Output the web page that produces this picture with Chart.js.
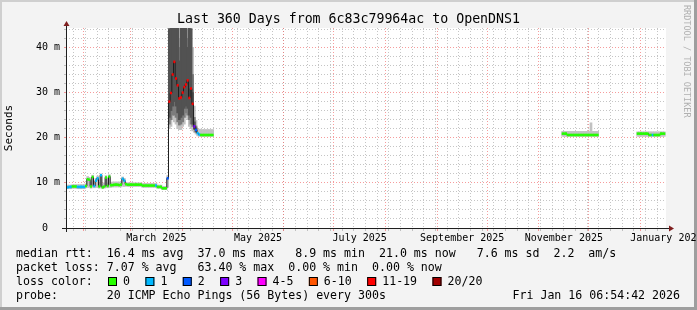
<!DOCTYPE html>
<html>
<head>
<meta charset="utf-8">
<script src="https://cdn.jsdelivr.net/npm/chart.js@4.4.1/dist/chart.umd.min.js"></script>
<style>
html, body { margin: 0; padding: 0; background: #f3f3f3; }
canvas { display: block; }
</style>
</head>
<body>
<canvas id="chart" width="697" height="310"></canvas>
<script>
// データ (期間の開始からの経過日数ごと、null は欠測)
const days = [
  0, 1, 2, 3, 4, 5, 6, 7, 8, 9, 10, 11, 12, 13, 14, 15, 16, 17, 18, 19, 20, 21, 22, 23, 24, 25, 26, 27, 28, 29,
  30, 31, 32, 33, 34, 35, 36, 37, 38, 39, 40, 41, 42, 43, 44, 45, 46, 47, 48, 49, 50, 51, 52, 53, 54, 55, 56, 57, 58, 59,
  60, 61, 62, 63, 64, 65, 66, 67, 68, 69, 70, 71, 72, 73, 74, 75, 76, 77, 78, 79, 80, 81, 82, 83, 84, 85, 86, 87, 88, 89,
  298, 299, 300, 301, 302, 303, 304, 305, 306, 307, 308, 309, 310, 311, 312, 313, 314, 315, 316, 317, 318, 319, 320,
  343, 344, 345, 346, 347, 348, 349, 350, 351, 352, 353, 354, 355, 356, 357, 358, 359
];
// 中央値 (ms)
const median = [
  9.0, 9.0, 9.1, 9.1, 9.2, 9.2, 9.2, 9.1, 9.1, 9.1, 9.1, 9.1,
  9.3, 10.8, 10.7, 9.2, 11.3, 9.3, 10.5, 11.0, 9.2, 11.7,
  9.0, 9.2, 11.2, 9.3, 11.4, 9.5, 9.5, 9.6, 9.6, 9.6, 9.5, 9.6,
  10.9, 10.5, 9.7, 9.6, 9.6, 9.6, 9.6, 9.6, 9.6, 9.6, 9.6, 9.6,
  9.4, 9.4, 9.4, 9.4, 9.4, 9.4, 9.4, 9.4, 9.4, 9.1, 9.1, 9.1,
  8.8, 8.8, 8.8, 11.0, 28.0, 29.9, 34.0, 36.8, 33.1, 31.6, 28.7, 28.9,
  30.0, 31.2, 31.8, 32.7, 28.8, 30.9, 27.5, 22.5, 21.7, 21.0,
  20.7, 20.6, 20.6, 20.6, 20.6, 20.6, 20.6, 20.6, 20.6, null,
  20.9, 20.9, 20.9, 20.6, 20.6, 20.6, 20.6, 20.6, 20.6, 20.6, 20.6, 20.6, 20.6, 20.6, 20.6, 20.6, 20.6, 20.6, 20.6, 20.6, 20.6, 20.6, null,
  20.9, 20.9, 20.9, 20.9, 20.9, 20.9, 20.9, 20.6, 20.6, 20.6, 20.6, 20.6, 20.6, 20.6, 20.9, 20.9, 20.9
];
// 20回中の損失数
const lossPings = [
  1, 1, 1, 1, 0, 0, 0, 1, 1, 1, 1, 1,
  0, 0, 0, 0, 0, 1, 1, 1, 0, 1,
  0, 0, 0, 0, 0, 0, 0, 0, 0, 0, 0, 0,
  1, 1, 0, 0, 0, 0, 0, 0, 0, 0, 0, 0,
  0, 0, 0, 0, 0, 0, 0, 0, 1, 0, 0, 0,
  0, 0, 0, 2, 14, 14, 14, 14, 14, 14, 14, 14,
  14, 14, 14, 14, 14, 14, 13, 3, 2, 1,
  1, 0, 0, 0, 0, 0, 0, 0, 0, null,
  0, 0, 0, 0, 0, 0, 0, 0, 0, 0, 0, 0, 0, 0, 0, 0, 0, 0, 0, 0, 0, 0, null,
  0, 0, 0, 0, 0, 0, 0, 0, 0, 1, 0, 0, 0, 0, 0, 0, 0
];
// スモーク (最小〜最大)
const smokeLo = [
  8.7, 8.7, 8.7, 8.7, 8.8, 8.8, 8.8, 8.7, 8.7, 8.7, 8.7, 8.7,
  8.9, 9.0, 9.0, 8.8, 9.0, 8.9, 9.0, 9.0, 8.8, 9.1,
  8.7, 8.8, 9.0, 8.9, 9.0, 9.0, 9.1, 9.1, 9.1, 9.1, 9.1, 9.1,
  9.3, 9.2, 9.3, 9.2, 9.2, 9.2, 9.2, 9.2, 9.2, 9.2, 9.2, 9.2,
  9.0, 9.0, 9.0, 9.0, 9.0, 9.0, 9.0, 9.0, 9.0, 8.8, 8.8, 8.8,
  8.5, 8.5, 8.5, 9.0, 22.0, 22.5, 24.0, 23.5, 23.0, 22.0, 21.8, 21.8,
  22.5, 23.0, 24.5, 24.0, 22.5, 22.0, 21.5, 21.2, 20.8, 20.4,
  20.3, 20.3, 20.3, 20.3, 20.3, 20.3, 20.3, 20.3, 20.3, null,
  20.3, 20.3, 20.3, 20.3, 20.3, 20.3, 20.3, 20.3, 20.3, 20.3, 20.3, 20.3, 20.3, 20.3, 20.3, 20.3, 20.3, 20.3, 20.3, 20.3, 20.3, 20.3, null,
  20.3, 20.3, 20.3, 20.3, 20.3, 20.3, 20.3, 20.3, 20.3, 20.3, 20.3, 20.3, 20.3, 20.3, 20.3, 20.3, 20.3
];
const smokeHi = [
  9.5, 9.5, 9.5, 9.5, 9.6, 9.6, 9.6, 9.6, 9.6, 9.6, 9.6, 9.6,
  9.8, 11.4, 11.2, 10.2, 11.7, 10.4, 11.0, 11.5, 10.0, 12.0,
  9.8, 10.0, 11.6, 10.0, 11.8, 10.0, 10.2, 10.2, 10.2, 10.2, 10.2, 10.2,
  11.3, 11.0, 10.1, 10.0, 10.0, 10.0, 10.0, 10.0, 10.0, 10.0, 10.0, 10.0,
  9.9, 9.9, 9.9, 9.9, 9.9, 9.9, 9.9, 9.9, 9.9, 9.5, 9.5, 9.5,
  9.2, 9.2, 9.2, 11.6, 60, 60, 60, 60, 60, 60, 42, 60,
  60, 60, 60, 44, 60, 60, 40, 27, 23.8, 22.0,
  21.9, 21.8, 21.8, 21.8, 21.8, 21.8, 21.8, 21.8, 21.8, null,
  21.4, 21.4, 21.4, 21.4, 21.4, 21.4, 21.4, 21.4, 21.4, 21.4, 21.4, 21.4, 21.4, 21.4, 21.4, 21.4, 21.4, 23.3, 21.4, 21.4, 21.4, 21.4, null,
  21.3, 21.3, 21.3, 21.3, 21.3, 21.3, 21.3, 21.3, 21.3, 21.3, 21.3, 21.3, 21.3, 21.3, 21.3, 21.3, 21.3
];
// 高遅延期間の濃いスモーク
const hotDays = [62, 63, 64, 65, 66, 67, 68, 69, 70, 71, 72, 73, 74, 75, 76, 77, 78];
const hotMidLo = [23.0, 24.0, 25.0, 25.0, 24.5, 23.5, 22.8, 23.0, 23.5, 24.5, 25.5, 25.0, 24.0, 23.0, 22.5, 21.8, 21.2];
const hotMidHi = [52, 60, 60, 60, 60, 50, 40, 54, 55, 60, 60, 42, 56, 50, 34, 24.5, 22.6];
const hotCoreLo = [24.5, 26.0, 27.0, 28.0, 27.0, 25.5, 24.0, 24.5, 25.0, 26.5, 27.0, 26.5, 25.0, 24.5, 23.0, 22.0, 21.3];
const hotCoreHi = [44, 60, 60, 60, 52, 46, 37, 48, 60, 60, 60, 40, 50, 44, 30, 23.5, 22.2];

// 目盛りラベル
const monthLabels = ['March 2025', 'May 2025', 'July 2025', 'September 2025', 'November 2025', 'January 2026'];
const labelMonths = [[2025, 2], [2025, 4], [2025, 6], [2025, 8], [2025, 10], [2026, 0]];

// 損失色
const lossNames = ['0', '1', '2', '3', '4-5', '6-10', '11-19', '20/20'];
const lossLimits = [0, 1, 2, 3, 5, 10, 19, 20];
const lossColors = ['#26ff00', '#00b8ff', '#0059ff', '#7e00ff', '#ff00ff', '#ff5500', '#ff0000', '#a10000'];

const titleText = 'Last 360 Days from 6c83c79964ac to OpenDNS1';
const statLines = [
  'median rtt:  16.4 ms avg  37.0 ms max   8.9 ms min  21.0 ms now   7.6 ms sd  2.2  am/s',
  'packet loss: 7.07 % avg   63.40 % max  0.00 % min  0.00 % now',
  'loss color:',
  'probe:       20 ICMP Echo Pings (56 Bytes) every 300s'
];
const stampText = 'Fri Jan 16 06:54:42 2026';

const MONO = 'DejaVu Sans Mono';
const MINOR = 'rgba(150,150,150,0.55)';
const MAJOR = 'rgba(240,90,90,0.6)';

// 時間軸の計算
const DAY = 86400000;
const endTime = Date.UTC(2026, 0, 16, 6, 54, 42);
const startTime = endTime - 360 * DAY;
const toDay = t => (t - startTime) / DAY;

function gridTicks() {
    const ticks = [];
    // 週ごとの補助線
    for (let t = Date.UTC(2025, 0, 26); t < endTime; t += 7 * DAY) {
        ticks.push({ value: toDay(t), major: false });
    }
    // 月ごとの主線
    for (let m = 1; m <= 12; m++) {
        ticks.push({ value: toDay(Date.UTC(2025, m, 1)), major: true });
    }
    return ticks.sort((a, b) => a.value - b.value);
}

// ラベルは月の中央に置く
const labelTicks = labelMonths.map(([y, m]) => ({
    value: (toDay(Date.UTC(y, m, 1)) + toDay(Date.UTC(y, m + 1, 1))) / 2
}));

function lossColor(n) {
    const i = lossLimits.findIndex(lim => n <= lim);
    return lossColors[i < 0 ? lossColors.length - 1 : i];
}

function bandData(xs, lo, hi) {
    return xs.map((d, i) => ({ x: d, y: lo[i] == null ? null : [lo[i], hi[i]] }));
}

// 背景と枠
const framePlugin = {
    id: 'frame',
    beforeDraw(chart) {
        const { ctx, width, height, chartArea: a } = chart;
        ctx.save();
        ctx.fillStyle = '#f3f3f3';
        ctx.fillRect(0, 0, width, height);
        ctx.fillStyle = '#cfcfcf';
        ctx.fillRect(0, 0, width, 2);
        ctx.fillRect(0, 0, 2, height);
        ctx.fillStyle = '#9e9e9e';
        ctx.fillRect(width - 3, 0, 3, height);
        ctx.fillRect(0, height - 3, width, 3);
        ctx.fillStyle = '#ffffff';
        ctx.fillRect(a.left, a.top, a.right - a.left, a.bottom - a.top);
        // 透かし
        ctx.translate(686, 5);
        ctx.rotate(Math.PI / 2);
        ctx.font = '8.5px "' + MONO + '"';
        ctx.fillStyle = '#b0b0b0';
        ctx.textBaseline = 'middle';
        ctx.fillText('RRDTOOL / TOBI OETIKER', 0, 0);
        ctx.restore();
    }
};

// 軸と矢印
const axisPlugin = {
    id: 'axisArrows',
    afterDatasetsDraw(chart) {
        const { ctx, chartArea: a } = chart;
        ctx.save();
        ctx.strokeStyle = '#1f1f1f';
        ctx.lineWidth = 1;
        ctx.beginPath();
        ctx.moveTo(a.left - 4, a.bottom + 0.5);
        ctx.lineTo(a.right + 4, a.bottom + 0.5);
        ctx.moveTo(a.left + 0.5, a.bottom + 4);
        ctx.lineTo(a.left + 0.5, a.top - 3);
        ctx.stroke();
        ctx.fillStyle = '#7f1f1f';
        ctx.beginPath();
        ctx.moveTo(a.right + 3, a.bottom - 2.5);
        ctx.lineTo(a.right + 8, a.bottom + 0.5);
        ctx.lineTo(a.right + 3, a.bottom + 3.5);
        ctx.closePath();
        ctx.fill();
        ctx.beginPath();
        ctx.moveTo(a.left - 2.5, a.top - 2);
        ctx.lineTo(a.left + 0.5, a.top - 7);
        ctx.lineTo(a.left + 3.5, a.top - 2);
        ctx.closePath();
        ctx.fill();
        ctx.restore();
    }
};

// 統計と損失色の凡例
const statsPlugin = {
    id: 'stats',
    afterDraw(chart) {
        const ctx = chart.ctx;
        const rows = [254, 268, 282, 296];
        ctx.save();
        ctx.font = '11.6px "' + MONO + '"';
        ctx.fillStyle = '#000';
        ctx.textBaseline = 'middle';
        statLines.forEach((line, i) => ctx.fillText(line, 16, rows[i]));
        let x = 108;
        lossNames.forEach((name, i) => {
            ctx.fillStyle = lossColors[i];
            ctx.fillRect(x, 277, 9, 9);
            ctx.strokeStyle = '#000';
            ctx.lineWidth = 1;
            ctx.strokeRect(x + 0.5, 277.5, 8, 8);
            ctx.fillStyle = '#000';
            ctx.fillText(name, x + 15, rows[2]);
            x += 15 + ctx.measureText(name).width + 15.4;
        });
        ctx.textAlign = 'right';
        ctx.fillText(stampText, 680, rows[3]);
        ctx.restore();
    }
};

new Chart(document.getElementById('chart'), {
    type: 'line',
    data: {
        datasets: [
            {
                type: 'line',
                data: days.map((d, i) => ({ x: d, y: median[i] })),
                borderColor: '#202020',
                borderWidth: 1,
                stepped: 'middle',
                spanGaps: false,
                fill: false,
                pointStyle: 'line',
                pointRadius: 1,
                pointBorderWidth: 2.6,
                pointBorderColor: ctx => lossColor(lossPings[ctx.dataIndex]),
                order: 1
            },
            {
                type: 'bar',
                data: bandData(hotDays, hotCoreLo, hotCoreHi),
                backgroundColor: '#525252',
                barThickness: 2,
                grouped: false,
                borderWidth: 0,
                order: 2
            },
            {
                type: 'bar',
                data: bandData(hotDays, hotMidLo, hotMidHi),
                backgroundColor: '#7c7c7c',
                barThickness: 2,
                grouped: false,
                borderWidth: 0,
                order: 3
            },
            {
                type: 'bar',
                data: bandData(days, smokeLo, smokeHi),
                backgroundColor: '#c2c2c2',
                barThickness: 2,
                grouped: false,
                borderWidth: 0,
                order: 4
            }
        ]
    },
    options: {
        responsive: false,
        devicePixelRatio: 1,
        animation: false,
        events: [],
        layout: { padding: { left: 0, right: 0, top: 0, bottom: 65 } },
        plugins: {
            legend: { display: false },
            tooltip: { enabled: false },
            title: {
                display: true,
                text: titleText,
                color: '#000',
                font: { family: MONO, size: 13.25, weight: 'normal', lineHeight: '16px' },
                padding: { top: 12, bottom: 0 }
            }
        },
        scales: {
            x: {
                type: 'linear',
                position: 'bottom',
                min: 0,
                max: 360,
                offset: false,
                afterBuildTicks: s => { s.ticks = gridTicks(); },
                afterFit: s => { s.height = 3; s.paddingLeft = 0; s.paddingRight = 0; },
                ticks: { display: false },
                grid: {
                    offset: false,
                    color: ctx => (ctx.tick && ctx.tick.major ? MAJOR : MINOR),
                    lineWidth: 1,
                    tickLength: 3
                },
                border: { display: false, dash: [1, 2] }
            },
            xl: {
                type: 'linear',
                position: 'bottom',
                min: 0,
                max: 360,
                afterBuildTicks: s => { s.ticks = labelTicks.map(t => ({ value: t.value })); },
                afterFit: s => { s.height = 14; s.paddingLeft = 0; s.paddingRight = 0; },
                ticks: {
                    autoSkip: false,
                    maxRotation: 0,
                    padding: 1,
                    color: '#000',
                    font: { family: MONO, size: 10 },
                    callback: (v, i) => monthLabels[i]
                },
                grid: { display: false, drawTicks: false },
                border: { display: false }
            },
            y: {
                type: 'linear',
                position: 'left',
                min: 0,
                max: 44.3,
                afterFit: s => { s.width = 66; },
                ticks: {
                    stepSize: 2,
                    includeBounds: false,
                    autoSkip: false,
                    padding: 4,
                    color: '#000',
                    font: { family: MONO, size: 10 },
                    callback: v => (v % 10 === 0 ? (v === 0 ? '0  ' : v + ' m') : '')
                },
                grid: {
                    color: ctx => (ctx.tick && ctx.tick.value % 10 === 0 ? MAJOR : MINOR),
                    lineWidth: 1,
                    tickLength: 2
                },
                border: { display: false, dash: [1, 2] },
                title: {
                    display: true,
                    text: 'Seconds',
                    color: '#000',
                    font: { family: MONO, size: 11 },
                    padding: { top: 3, bottom: 0 }
                }
            },
            r: {
                type: 'linear',
                position: 'right',
                display: true,
                afterFit: s => { s.width = 31; },
                ticks: { display: false },
                grid: { display: false, drawTicks: false },
                border: { display: false }
            }
        }
    },
    plugins: [framePlugin, axisPlugin, statsPlugin]
});
</script>
</body>
</html>
